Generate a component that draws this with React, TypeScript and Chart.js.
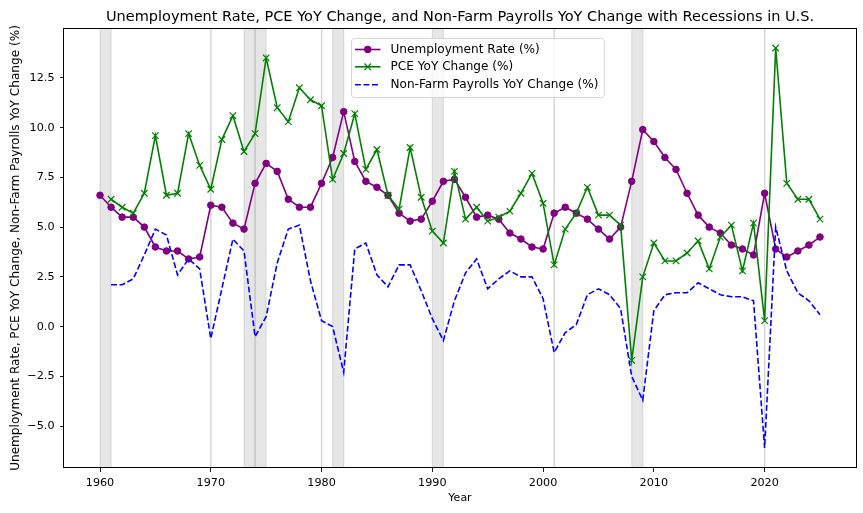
import React, { useEffect, useRef } from 'react';
import { Chart, registerables } from 'chart.js';

Chart.register(...registerables);

const years = [
  1960, 1961, 1962, 1963, 1964, 1965, 1966, 1967, 1968, 1969,
  1970, 1971, 1972, 1973, 1974, 1975, 1976, 1977, 1978, 1979,
  1980, 1981, 1982, 1983, 1984, 1985, 1986, 1987, 1988, 1989,
  1990, 1991, 1992, 1993, 1994, 1995, 1996, 1997, 1998, 1999,
  2000, 2001, 2002, 2003, 2004, 2005, 2006, 2007, 2008, 2009,
  2010, 2011, 2012, 2013, 2014, 2015, 2016, 2017, 2018, 2019,
  2020, 2021, 2022, 2023, 2024, 2025,
];

const unemploymentRate = [
  6.6, 6.0, 5.5, 5.5, 5.0, 4.0, 3.8, 3.8, 3.4, 3.5,
  6.1, 6.0, 5.2, 4.9, 7.2, 8.2, 7.8, 6.4, 6.0, 6.0,
  7.2, 8.5, 10.8, 8.3, 7.3, 7.0, 6.6, 5.7, 5.3, 5.4,
  6.3, 7.3, 7.4, 6.5, 5.5, 5.6, 5.4, 4.7, 4.4, 4.0,
  3.9, 5.7, 6.0, 5.7, 5.4, 4.9, 4.4, 5.0, 7.3, 9.9,
  9.3, 8.5, 7.9, 6.7, 5.6, 5.0, 4.7, 4.1, 3.9, 3.6,
  6.7, 3.9, 3.5, 3.8, 4.1, 4.5,
];

const pceYoY = [
  null, 6.4, 6.0, 5.7, 6.7, 9.6, 6.6, 6.7, 9.7, 8.1,
  6.9, 9.4, 10.6, 8.8, 9.7, 13.5, 11.0, 10.3, 12.0, 11.4,
  11.1, 7.4, 8.7, 10.7, 7.9, 8.9, 6.6, 5.9, 9.0, 6.5,
  4.8, 4.2, 7.8, 5.4, 6.0, 5.3, 5.5, 5.8, 6.7, 7.7,
  6.2, 3.1, 4.9, 5.7, 7.0, 5.6, 5.6, 5.1, -1.7, 2.5,
  4.2, 3.3, 3.3, 3.7, 4.3, 2.9, 4.5, 5.1, 2.8, 5.2,
  0.3, 14.0, 7.2, 6.4, 6.4, 5.4,
];

const payrollsYoY = [
  null, 2.1, 2.1, 2.4, 3.6, 4.9, 4.6, 2.6, 3.4, 2.9,
  -0.6, 1.9, 4.4, 3.8, -0.5, 0.5, 3.2, 4.9, 5.1, 2.3,
  0.3, 0.0, -2.3, 3.9, 4.2, 2.6, 2.0, 3.1, 3.1, 1.8,
  0.4, -0.7, 1.3, 2.7, 3.4, 1.9, 2.4, 2.8, 2.5, 2.5,
  1.4, -1.3, -0.3, 0.1, 1.6, 1.9, 1.6, 0.9, -2.5, -3.7,
  0.8, 1.6, 1.7, 1.7, 2.2, 1.9, 1.6, 1.5, 1.5, 1.3,
  -6.1, 5.0, 2.8, 1.7, 1.3, 0.6,
];

const recessionStarts = [1960, 1970, 1973, 1974, 1980, 1981, 1990, 2001, 2008, 2020];
const recessionEnds = [1961, 1970, 1974, 1975, 1980, 1982, 1991, 2001, 2009, 2020];

const xTickValues = [1960, 1970, 1980, 1990, 2000, 2010, 2020];
const yTickValues = [-5, -2.5, 0, 2.5, 5, 7.5, 10, 12.5];

const titleText = 'Unemployment Rate, PCE YoY Change, and Non-Farm Payrolls YoY Change with Recessions in U.S.';
const xAxisLabel = 'Year';
const yAxisLabel = 'Unemployment Rate, PCE YoY Change, Non-Farm Payrolls YoY Change (%)';
const seriesLabels = ['Unemployment Rate (%)', 'PCE YoY Change (%)', 'Non-Farm Payrolls YoY Change (%)'];
const seriesColors = ['purple', 'green', 'blue'];

const FONT = "'DejaVu Sans', sans-serif";
const TICK_SIZE = 11.2;
const XLABEL_SIZE = 11;
const LABEL_SIZE = 12.1;
const TITLE_SIZE = 14.5;

function toPoints(vals: (number | null)[]) {
  return years.map((yr, i) => ({ x: yr, y: vals[i] }));
}

function padRange(min: number, max: number) {
  const r = max - min;
  return [min - 0.05 * r, max + 0.05 * r];
}

const allY = [...unemploymentRate, ...pceYoY, ...payrollsYoY].filter((v) => v !== null) as number[];
const [yMin, yMax] = padRange(Math.min(...allY), Math.max(...allY));
const [xMin, xMax] = padRange(years[0], years[years.length - 1]);

const decorPlugin = {
  id: 'decor',
  beforeDatasetsDraw(chart: any) {
    const { ctx, chartArea: a, scales } = chart;
    const x = scales.x;
    ctx.save();
    ctx.beginPath();
    ctx.rect(a.left, a.top, a.right - a.left, a.bottom - a.top);
    ctx.clip();
    ctx.fillStyle = 'rgba(128,128,128,0.2)';
    ctx.strokeStyle = 'rgba(128,128,128,0.2)';
    ctx.lineWidth = 1.3;
    recessionStarts.forEach((s, i) => {
      const x0 = x.getPixelForValue(s);
      const x1 = x.getPixelForValue(recessionEnds[i]);
      if (x1 > x0) ctx.fillRect(x0, a.top, x1 - x0, a.bottom - a.top);
      for (const px of [x0, x1]) {
        ctx.beginPath();
        ctx.moveTo(px, a.top);
        ctx.lineTo(px, a.bottom);
        ctx.stroke();
      }
    });
    ctx.restore();
  },
  afterDraw(chart: any) {
    const { ctx, chartArea: a } = chart;
    ctx.save();
    // frame
    ctx.strokeStyle = '#000';
    ctx.lineWidth = 1;
    ctx.strokeRect(Math.round(a.left) - 0.5, Math.round(a.top) + 0.5, Math.round(a.right - a.left) + 1, Math.round(a.bottom - a.top) - 1);
    // title
    ctx.fillStyle = '#000';
    ctx.font = `${TITLE_SIZE}px ${FONT}`;
    ctx.textAlign = 'center';
    ctx.textBaseline = 'alphabetic';
    ctx.fillText(titleText, (a.left + a.right) / 2, 20.5);
    // legend
    ctx.font = `${LABEL_SIZE}px ${FONT}`;
    const widths = seriesLabels.map((t) => ctx.measureText(t).width);
    const bx = a.left + 287.5;
    const by = a.top + 10.5;
    const textX = bx + 39;
    const bw = textX - bx + Math.max(...widths) + 6;
    const bh = 59;
    ctx.beginPath();
    ctx.roundRect(bx, by, bw, bh, 3);
    ctx.fillStyle = 'rgba(255,255,255,0.8)';
    ctx.fill();
    ctx.strokeStyle = 'rgba(204,204,204,0.8)';
    ctx.lineWidth = 1;
    ctx.stroke();
    const rowY = [by + 11, by + 28.3, by + 46.3];
    seriesLabels.forEach((label, i) => {
      const y = rowY[i];
      const h0 = bx + 3.5;
      const h1 = bx + 29;
      ctx.strokeStyle = seriesColors[i];
      ctx.fillStyle = seriesColors[i];
      ctx.lineWidth = 1.6;
      ctx.setLineDash(i === 2 ? [5.9, 2.6] : []);
      ctx.beginPath();
      ctx.moveTo(h0, y);
      ctx.lineTo(h1, y);
      ctx.stroke();
      ctx.setLineDash([]);
      const cx = (h0 + h1) / 2;
      if (i === 0) {
        ctx.beginPath();
        ctx.arc(cx, y, 3.7, 0, Math.PI * 2);
        ctx.fill();
      } else if (i === 1) {
        ctx.lineWidth = 1.2;
        ctx.beginPath();
        ctx.moveTo(cx - 3.3, y - 3.3);
        ctx.lineTo(cx + 3.3, y + 3.3);
        ctx.moveTo(cx - 3.3, y + 3.3);
        ctx.lineTo(cx + 3.3, y - 3.3);
        ctx.stroke();
      }
      ctx.fillStyle = '#000';
      ctx.textAlign = 'left';
      ctx.textBaseline = 'middle';
      ctx.fillText(label, textX, y);
    });
    ctx.restore();
  },
};

export default function App() {
  const canvasRef = useRef<HTMLCanvasElement | null>(null);

  useEffect(() => {
    const canvas = canvasRef.current;
    if (!canvas) return;
    const chart = new Chart(canvas, {
      type: 'line',
      data: {
        datasets: [
          {
            label: seriesLabels[0],
            data: toPoints(unemploymentRate),
            borderColor: seriesColors[0],
            backgroundColor: seriesColors[0],
            borderWidth: 1.6,
            pointRadius: 3.3,
            pointBorderWidth: 1,
            pointBackgroundColor: seriesColors[0],
            pointBorderColor: seriesColors[0],
            tension: 0,
            order: 2,
          },
          {
            label: seriesLabels[1],
            data: toPoints(pceYoY),
            borderColor: seriesColors[1],
            backgroundColor: seriesColors[1],
            borderWidth: 1.6,
            pointStyle: 'crossRot',
            pointRadius: 4.6,
            pointBorderWidth: 1.2,
            pointBorderColor: seriesColors[1],
            tension: 0,
            spanGaps: true,
            order: 1,
          },
          {
            label: seriesLabels[2],
            data: toPoints(payrollsYoY),
            borderColor: seriesColors[2],
            backgroundColor: seriesColors[2],
            borderWidth: 1.6,
            borderDash: [5.9, 2.6],
            pointRadius: 0,
            tension: 0,
            spanGaps: true,
            order: 0,
          },
        ],
      },
      options: {
        animation: false,
        responsive: false,
        devicePixelRatio: 1,
        layout: { padding: { left: 0, right: 7, top: 28, bottom: 0 } },
        plugins: {
          legend: { display: false },
          title: { display: false },
          tooltip: { enabled: false },
        },
        scales: {
          x: {
            type: 'linear',
            min: xMin,
            max: xMax,
            afterBuildTicks: (s: any) => {
              s.ticks = xTickValues.map((v) => ({ value: v }));
            },
            afterFit: (s: any) => {
              s.height = 45;
            },
            grid: { display: true, drawOnChartArea: false, drawTicks: true, tickLength: 4, color: '#000', lineWidth: 0.9 },
            border: { display: false },
            ticks: {
              color: '#000',
              font: { family: FONT, size: TICK_SIZE },
              padding: 4.2,
              maxRotation: 0,
              autoSkip: false,
              callback: (v: any) => String(v),
            },
            title: {
              display: true,
              text: xAxisLabel,
              color: '#000',
              font: { family: FONT, size: XLABEL_SIZE },
              padding: { top: 0, bottom: 8.2 },
            },
          },
          y: {
            type: 'linear',
            min: yMin,
            max: yMax,
            afterBuildTicks: (s: any) => {
              s.ticks = yTickValues.map((v) => ({ value: v }));
            },
            afterFit: (s: any) => {
              s.width = 64;
            },
            grid: { display: true, drawOnChartArea: false, drawTicks: true, tickLength: 4, color: '#000', lineWidth: 0.9 },
            border: { display: false },
            ticks: {
              color: '#000',
              font: { family: FONT, size: TICK_SIZE },
              padding: 5.5,
              autoSkip: false,
              callback: (v: any) => Number(v).toFixed(1).replace('-', '\u2212'),
            },
            title: {
              display: true,
              text: yAxisLabel,
              color: '#000',
              font: { family: FONT, size: LABEL_SIZE },
              padding: { top: 8.5, bottom: 0 },
            },
          },
        },
      },
      plugins: [decorPlugin],
    } as any);
    return () => chart.destroy();
  }, []);

  return (
    <div style={{ position: 'absolute', left: 0, top: 0, width: 863, height: 513, background: '#fff' }}>
      <canvas ref={canvasRef} width={863} height={513} />
    </div>
  );
}
